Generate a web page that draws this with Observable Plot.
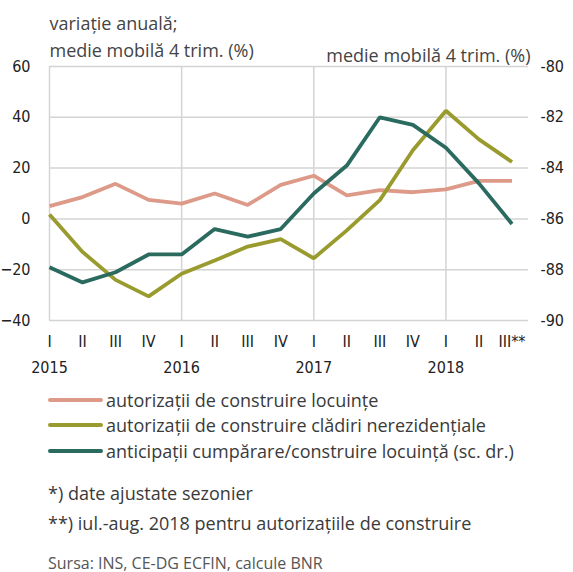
<!DOCTYPE html>
<html>
<head>
<meta charset="utf-8">
<script src="https://cdn.jsdelivr.net/npm/d3@7"></script>
<script src="https://cdn.jsdelivr.net/npm/@observablehq/plot@0.6"></script>
<style>
  body { margin: 0; background: #fff; }
  #wrap { width: 573px; }
  #wrap svg { display: block; }
  .leg { font-family: "Open Sans", Lato, sans-serif; font-size: 18px; color: #3a3a3a; margin: 7px 0 0 48px; }
  .leg .row { height: 25.5px; display: flex; align-items: center; white-space: nowrap; }
  .leg .sw { display: inline-block; width: 55px; height: 4px; border-radius: 2px; margin-right: 3px; flex: none; }
  .note { font-family: "Open Sans", Lato, sans-serif; margin-left: 48px; color: #3a3a3a; white-space: nowrap; }
</style>
</head>
<body>
<div id="wrap"></div>
<script>
const quarters = ["I","II","III","IV","I","II","III","IV","I","II","III","IV","I","II","III**"];
const years = ["2015","2016","2017","2018"];
const locuinte = [5, 8.6, 13.8, 7.5, 6, 10, 5.5, 13.4, 17, 9.3, 11.3, 10.5, 11.6, 15, 15];
const nerezidentiale = [1.7, -13, -24, -30.5, -21.6, -16.4, -10.9, -8, -15.5, -4.5, 7.4, 27, 42.6, 31.3, 22.4];
const anticipatii = [-87.9, -88.5, -88.1, -87.4, -87.4, -86.4, -86.7, -86.4, -85, -83.9, -82, -82.3, -83.2, -84.6, -86.2];

const seriesNames = ["autorizații de construire locuințe", "autorizații de construire clădiri nerezidențiale", "anticipații cumpărare/construire locuință (sc. dr.)"];
const colors = ["#dd9a88", "#9a9b2e", "#2b6a5f"];
const notesText = ["*) date ajustate sezonier", "**) iul.-aug. 2018 pentru autorizațiile de construire", "Sursa: INS, CE-DG ECFIN, calcule BNR"];

// map right axis (-90..-80) onto left axis (-40..60)
const toLeft = v => (v + 80) * 10 + 60;
const toRight = v => (v - 60) / 10 - 80;

const rows = [];
locuinte.forEach((v, i) => rows.push({i, v, s: seriesNames[0]}));
nerezidentiale.forEach((v, i) => rows.push({i, v, s: seriesNames[1]}));
anticipatii.forEach((v, i) => rows.push({i, v: toLeft(v), s: seriesNames[2]}));

const yTicks = d3.range(-40, 61, 20);
const tickFont = "Liberation Sans Narrow, DejaVu Sans Condensed, sans-serif";
const textFont = "Open Sans, Lato, sans-serif";

const chart = Plot.plot({
  width: 573,
  height: 380,
  marginLeft: 49,
  marginRight: 45,
  marginTop: 66,
  marginBottom: 60,
  style: {fontFamily: tickFont, fontSize: "16px", color: "#222", background: "#fff"},
  x: {type: "linear", domain: [0, 14.5], axis: null},
  y: {domain: [-40, 60], axis: null},
  color: {domain: seriesNames, range: colors},
  marks: [
    Plot.ruleY(yTicks, {stroke: "#d4d4d4", strokeWidth: 1.5}),
    Plot.ruleX([0, 4, 8, 12], {stroke: "#d4d4d4", strokeWidth: 1.5}),
    Plot.axisY(yTicks, {anchor: "left", tickSize: 0, tickPadding: 19, label: null, fontSize: 16, fill: "#222"}),
    Plot.axisY(yTicks, {anchor: "right", tickSize: 0, tickPadding: 12, label: null, tickFormat: d => String(toRight(d)), fontSize: 16, fill: "#222", textAnchor: "start"}),
    Plot.axisX(d3.range(15), {anchor: "bottom", tickSize: 0, tickPadding: 15, label: null, tickFormat: i => quarters[i], fontSize: 16, fill: "#222"}),
    Plot.axisX([0, 4, 8, 12], {anchor: "bottom", tickSize: 0, tickPadding: 41, label: null, tickFormat: i => years[i / 4], fontSize: 16, fill: "#222"}),
    Plot.line(rows, {x: "i", y: "v", z: "s", stroke: "s", strokeWidth: 3.8, strokeLinejoin: "miter", strokeLinecap: "butt"}),
    Plot.text(["variație anuală;\nmedie mobilă 4 trim. (%)"], {frameAnchor: "top-left", dx: 0, dy: -56, lineHeight: 1.5, textAnchor: "start", fontFamily: textFont, fontSize: 18, fill: "#444"}),
    Plot.text(["medie mobilă 4 trim. (%)"], {frameAnchor: "top-right", dx: 2, dy: -17, textAnchor: "end", fontFamily: textFont, fontSize: 18, fill: "#444"})
  ]
});

const wrap = document.getElementById("wrap");
wrap.appendChild(chart);

const leg = document.createElement("div");
leg.className = "leg";
seriesNames.forEach((n, k) => {
  const r = document.createElement("div");
  r.className = "row";
  const sw = document.createElement("span");
  sw.className = "sw";
  sw.style.background = colors[k];
  r.appendChild(sw);
  const t = document.createElement("span");
  t.textContent = n;
  r.appendChild(t);
  leg.appendChild(r);
});
wrap.appendChild(leg);

const noteStyles = [
  {mt: 16, lh: 26, size: 18, color: "#3a3a3a"},
  {mt: 4, lh: 26, size: 18, color: "#3a3a3a"},
  {mt: 16, lh: 22, size: 16, color: "#555"}
];
notesText.forEach((t, k) => {
  const d = document.createElement("div");
  d.className = "note";
  d.style.marginTop = noteStyles[k].mt + "px";
  d.style.lineHeight = noteStyles[k].lh + "px";
  d.style.fontSize = noteStyles[k].size + "px";
  d.style.color = noteStyles[k].color;
  d.textContent = t;
  wrap.appendChild(d);
});
</script>
</body>
</html>
